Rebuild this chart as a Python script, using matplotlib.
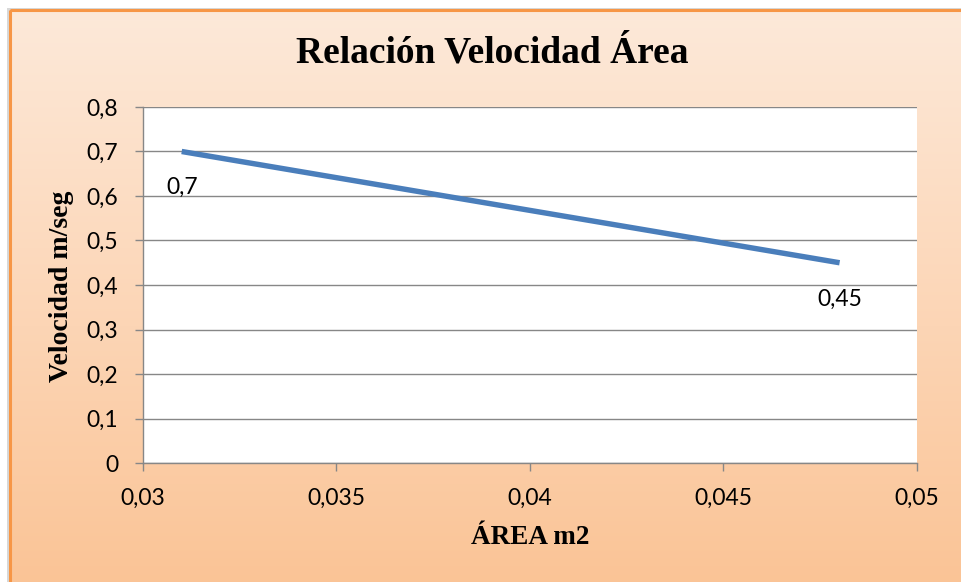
import numpy as np
import matplotlib.pyplot as plt
from matplotlib.ticker import FuncFormatter, MultipleLocator
from matplotlib.colors import LinearSegmentedColormap
from matplotlib.patches import Rectangle

# datos
area = [0.031, 0.048]
velocidad = [0.7, 0.45]
etiquetas = ["0,7", "0,45"]

W, H = 961, 582
fig = plt.figure(figsize=(W / 100, H / 100), dpi=100)
fig.patch.set_facecolor("white")

# fondo con degradado naranja
bg = fig.add_axes([0, 0, 1, 1], zorder=0)
bg.axis("off")
cmap = LinearSegmentedColormap.from_list("naranja", ["#FDE9D9", "#FCD5B5", "#FAC08F"])
grad = np.linspace(0, 1, 256).reshape(-1, 1)
bg.imshow(grad, cmap=cmap, aspect="auto", extent=(11, W + 60, H + 60, 11), zorder=1)
# sombra y borde del área del gráfico
bg.add_patch(Rectangle((7, 8), W + 60, H + 60, facecolor="#D8D8D8", edgecolor="none", zorder=0.5))
bg.add_patch(Rectangle((10, 10), W + 60, H + 60, facecolor="none",
                       edgecolor="#F79646", linewidth=2.2, zorder=2))
bg.set_xlim(0, W)
bg.set_ylim(H, 0)

ax = fig.add_axes([143 / W, 1 - 463 / H, (917 - 143) / W, (463 - 107) / H], zorder=2)
ax.set_facecolor("white")

ax.plot(area, velocidad, color="#4A7EBB", linewidth=3.9, solid_capstyle="butt", zorder=3)
for x, y, t in zip(area, velocidad, etiquetas):
    ax.annotate(t, (x, y), xytext=(0, -26), textcoords="offset points",
                ha="center", va="center", fontsize=16.5, family="Lato", zorder=4)

ax.set_xlim(0.03, 0.05)
ax.set_ylim(0, 0.8)
ax.xaxis.set_major_locator(MultipleLocator(0.005))
ax.yaxis.set_major_locator(MultipleLocator(0.1))
coma = FuncFormatter(lambda v, p: ("%g" % round(v, 4)).replace(".", ","))
ax.xaxis.set_major_formatter(coma)
ax.yaxis.set_major_formatter(coma)

ax.grid(axis="y", color="#878787", linewidth=1)
ax.set_axisbelow(True)
for s in ["top", "right"]:
    ax.spines[s].set_visible(False)
for s in ["left", "bottom"]:
    ax.spines[s].set_color("#878787")
    ax.spines[s].set_linewidth(1)
ax.tick_params(direction="out", length=6, color="#878787", width=1, labelsize=16.5)
ax.tick_params(axis="y", pad=12)
ax.tick_params(axis="x", pad=12)
for lbl in ax.get_xticklabels() + ax.get_yticklabels():
    lbl.set_family("Lato")

fig.text(492 / W, 1 - 53 / H, "Relación Velocidad Área", ha="center", va="center",
         fontsize=27, fontweight="bold", family="Liberation Serif")
fig.text(530 / W, 1 - 538 / H, "ÁREA m2", ha="center", va="center",
         fontsize=19.5, fontweight="bold", family="Liberation Serif")
fig.text(62 / W, 1 - 286 / H, "Velocidad m/seg", ha="center", va="center",
         rotation=90, fontsize=20, fontweight="bold", family="Liberation Serif")

fig.savefig("out.png", dpi=100)
